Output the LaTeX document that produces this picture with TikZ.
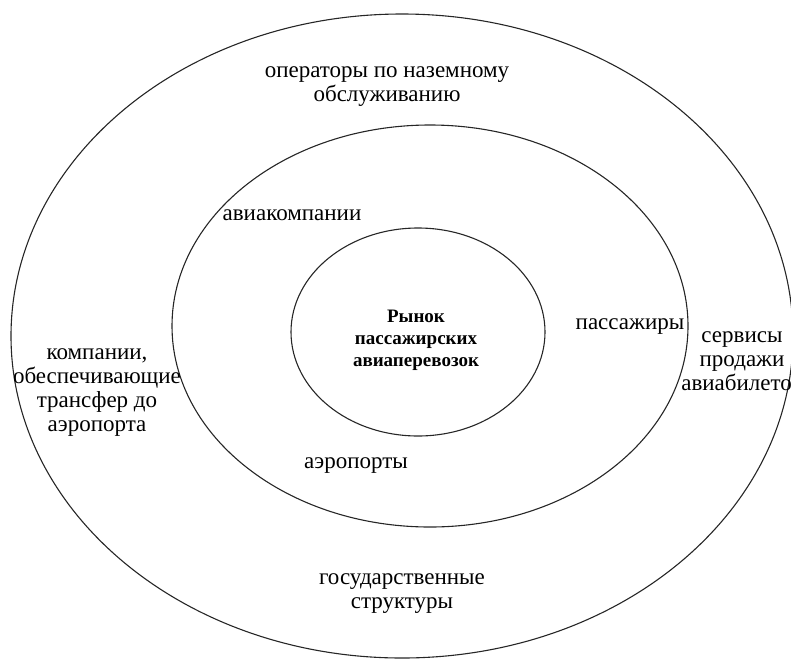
\documentclass[tikz,border=0pt]{standalone}
\usepackage{fontspec}
\setmainfont{Liberation Serif}
\newfontfamily\ruserif{Liberation Serif}
\usetikzlibrary{shapes.geometric}
\begin{document}
\begin{tikzpicture}[x=1pt,y=-1pt,
  ring/.style={draw=black!85, line width=1.1pt, ellipse, inner sep=0pt},
  lbl/.style={align=center, font=\ruserif\fontsize{23}{24}\selectfont, inner sep=0pt},
  core/.style={align=center, font=\ruserif\bfseries\fontsize{19}{22}\selectfont, inner sep=0pt}]
\useasboundingbox (0,0) rectangle (791,659);
\clip (0,0) rectangle (791,659);
\node[ring, minimum width=782pt, minimum height=644pt] (outer) at (402,336) {};
\node[ring, minimum width=516pt, minimum height=402pt] (middle) at (430,326) {};
\node[ring, minimum width=254pt, minimum height=208pt] (inner) at (418,332) {};
\node[core] (market) at (416,340) {Рынок\\пассажирских\\авиаперевозок};
\node[lbl] (ground) at (387,87) {операторы по наземному\\обслуживанию};
\node[lbl] (airlines) at (292,215) {авиакомпании};
\node[lbl] (pass) at (630,327) {пассажиры};
\node[lbl] (sales) at (742,361) {сервисы\\продажи\\авиабилетов};
\node[lbl] (transfer) at (97,393) {компании,\\обеспечивающие\\трансфер до\\аэропорта};
\node[lbl] (airports) at (356,466) {аэропорты};
\node[lbl] (gov) at (402,594) {государственные\\структуры};
\end{tikzpicture}
\end{document}
